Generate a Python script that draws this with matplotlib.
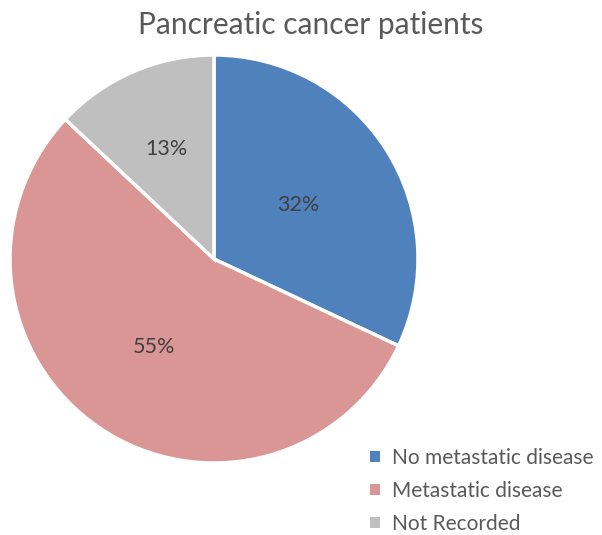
import numpy as np
import matplotlib.pyplot as plt
from matplotlib.patches import Patch

plt.rcParams['font.family'] = ['Lato', 'DejaVu Sans']

labels = ['No metastatic disease', 'Metastatic disease', 'Not Recorded']
values = [32, 55, 13]
colors = ['#4F81BD', '#D99694', '#BFBFBF']
label_dist = [0.49, 0.52, 0.59]

fig = plt.figure(figsize=(6.02, 5.35), dpi=100)
ax = fig.add_axes([10 / 602, 72 / 535, 408 / 602, 408 / 535])

wedges, _ = ax.pie(values, colors=colors, startangle=90, counterclock=False,
                   wedgeprops=dict(edgecolor='white', linewidth=2.5))
ax.set_xlim(-1, 1)
ax.set_ylim(-1, 1)
ax.set_aspect('equal')

# percentage labels at the middle of each wedge
for w, v, d in zip(wedges, values, label_dist):
    ang = np.deg2rad((w.theta1 + w.theta2) / 2)
    ax.text(d * np.cos(ang), d * np.sin(ang), f'{v}%', ha='center', va='center',
            fontsize=15.5, color='#404040')

fig.text(311 / 602, 1 - 25 / 535, 'Pancreatic cancer patients', ha='center', va='center',
         fontsize=21.5, color='#595959')

handles = [Patch(facecolor=c, edgecolor='none') for c in colors]
fig.legend(handles, labels, loc='center left', bbox_to_anchor=(360 / 602, 1 - 491 / 535),
           frameon=False, fontsize=15, labelcolor='#595959', handlelength=0.45,
           handleheight=0.45, handletextpad=0.6, labelspacing=0.62, borderpad=0)

fig.savefig('out.png', dpi=100)
